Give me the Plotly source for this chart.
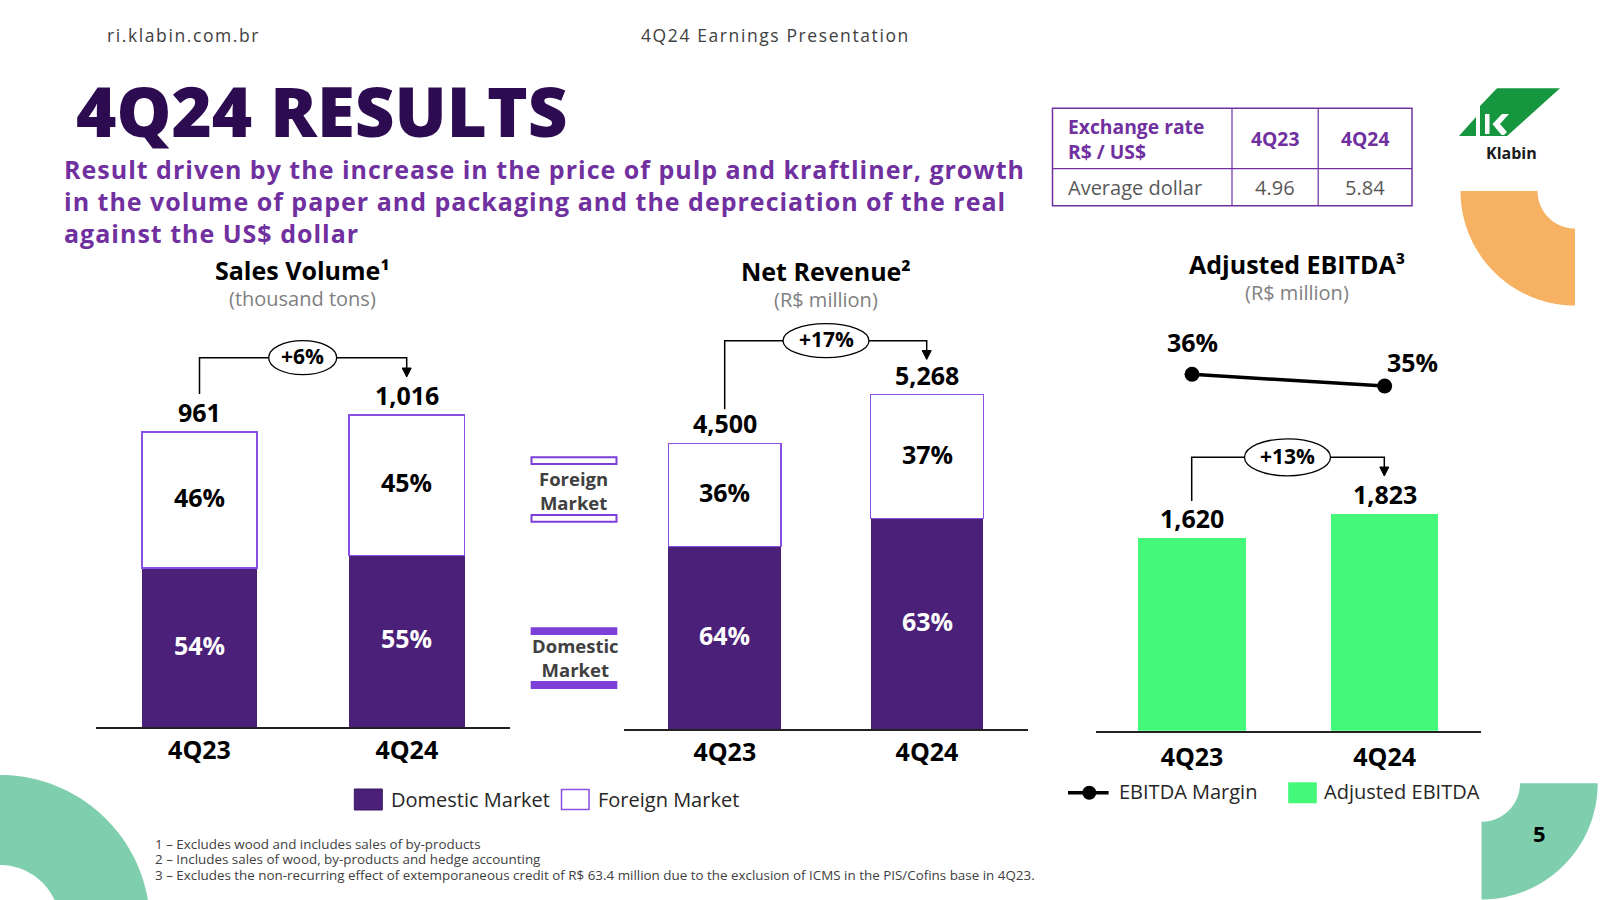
import numpy as np
import plotly.graph_objects as go

# ---------------- data ----------------
quarters = ["4Q23", "4Q24"]
volume_total = [961, 1016]
volume_domestic_pct = [54, 55]
volume_foreign_pct = [46, 45]
revenue_total = [4500, 5268]
revenue_domestic_pct = [64, 63]
revenue_foreign_pct = [36, 37]
ebitda = [1620, 1823]
ebitda_margin = [36, 35]
growth_labels = ["+6%", "+17%", "+13%"]
fx_header = ["Exchange rate", "R$ / US$"]
fx_periods = ["4Q23", "4Q24"]
fx_label = "Average dollar"
fx_values = ["4.96", "5.84"]
footnotes = [
    "1 – Excludes wood and includes sales of by-products",
    "2 – Includes sales of wood, by-products and hedge accounting",
    "3 – Excludes the non-recurring effect of extemporaneous credit of R$ 63.4 million due to the exclusion of ICMS in the PIS/Cofins base in 4Q23.",
]

# ---------------- style ----------------
W, H = 1600, 900
FONT = "Open Sans"
DOM = "#4B2079"
FOR_LINE = "#8A4FE3"
LEG_VIOLET = "#7D3FD8"
GREEN = "#44F97A"
MINT = "#7FCEAE"
ORANGE = "#F6B262"
PURPLE_TXT = "#7030A0"
TITLE_COL = "#2D0B50"
BW = 0.557
DY = -1.5  # small global vertical nudge for free texts


def X(p):
    return p / W


def Y(p):
    return 1 - p / H


fig = go.Figure()
shapes = []
anns = []


def txt(x, y, s, size, color="#000000", weight="normal", xanchor="center", yanchor="middle", ls=None,
        dy=DY, align="center"):
    if ls is not None:
        s = f'<span style="letter-spacing:{ls}px">{s}</span>'
    anns.append(dict(x=X(x), y=Y(y + dy), xref="paper", yref="paper", text=s, showarrow=False,
                     xanchor=xanchor, yanchor=yanchor, align=align,
                     font=dict(family=FONT, size=size, color=color, weight=weight)))


def seg_label(q, yv, s, xa, ya, color):
    anns.append(dict(x=q, y=yv, xref=xa, yref=ya, text=s, showarrow=False, yshift=3,
                     yanchor="middle", font=dict(family=FONT, size=25, color=color, weight="bold")))


def stacked(total, dom_pct, for_pct, xa, ya):
    dom = [t * p / 100 for t, p in zip(total, dom_pct)]
    frn = [t * p / 100 for t, p in zip(total, for_pct)]
    fig.add_bar(x=quarters, y=dom, xaxis=xa, yaxis=ya, width=BW,
                marker=dict(color=DOM, line=dict(width=0)),
                showlegend=False, hoverinfo="skip")
    fig.add_bar(x=quarters, y=frn, xaxis=xa, yaxis=ya, width=BW,
                marker=dict(color="white", line=dict(color=FOR_LINE, width=1.5)),
                showlegend=False, hoverinfo="skip")
    for q, d, f, dp, fp in zip(quarters, dom, frn, dom_pct, for_pct):
        seg_label(q, d / 2, f"{dp}%", xa, ya, "white")
        seg_label(q, d + f / 2, f"{fp}%", xa, ya, "black")
    for q, t in zip(quarters, total):
        anns.append(dict(x=q, y=t, xref=xa, yref=ya, text=f"{t:,}", showarrow=False, yshift=20,
                         yanchor="middle", font=dict(family=FONT, size=25, color="black", weight="bold")))


stacked(volume_total, volume_domestic_pct, volume_foreign_pct, "x", "y")
stacked(revenue_total, revenue_domestic_pct, revenue_foreign_pct, "x2", "y2")

fig.add_bar(x=quarters, y=ebitda, xaxis="x3", yaxis="y3", width=BW,
            marker=dict(color=GREEN, line=dict(width=0)), showlegend=False, hoverinfo="skip")
for q, v in zip(quarters, ebitda):
    anns.append(dict(x=q, y=v, xref="x3", yref="y3", text=f"{v:,}", showarrow=False, yshift=20,
                     yanchor="middle", font=dict(family=FONT, size=25, color="black", weight="bold")))

fig.add_scatter(x=quarters, y=ebitda_margin, xaxis="x3", yaxis="y4", mode="lines+markers",
                line=dict(color="black", width=3.5), marker=dict(color="black", size=15),
                cliponaxis=False, showlegend=False, hoverinfo="skip")
margin_shift = [(0, 32), (28, 24)]
for q, m, (dx, dy) in zip(quarters, ebitda_margin, margin_shift):
    anns.append(dict(x=q, y=m, xref="x3", yref="y4", text=f"{m}%", showarrow=False,
                     xshift=dx, yshift=dy, yanchor="middle",
                     font=dict(family=FONT, size=25, color="black", weight="bold")))

# ---------------- axes ----------------
def xax(d0, d1, anchor, standoff):
    return dict(domain=[X(d0), X(d1)], range=[-0.5, 1.5], type="category", showline=True,
                linecolor="#222222", linewidth=1.5, ticks="", showgrid=False, zeroline=False,
                tickfont=dict(family=FONT, size=25, color="black", weight="bold"),
                ticklabelstandoff=standoff, anchor=anchor, fixedrange=True)


def yax(b, t, r0, r1):
    return dict(domain=[Y(b), Y(t)], range=[r0, r1], visible=False, fixedrange=True)


fig.update_layout(
    xaxis=xax(95.85, 510.45, "y", 0),
    yaxis=yax(727.3, 358.4, 0, 1200),
    xaxis2=xax(623.7, 1028.1, "y2", 0),
    yaxis2=yax(729.3, 348.1, 0, 6000),
    xaxis3=xax(1095.7, 1481.0, "y3", 4),
    yaxis3=yax(730.7, 374.2, 0, 3000),
    yaxis4=dict(domain=[Y(550), Y(300)], range=[20.98, 42.35], visible=False, anchor="x3",
                fixedrange=True),
)

# ---------------- growth brackets ----------------
def bracket(xl, yb, xr, yt, tip, ecx, ew, eh, label):
    shapes.append(dict(type="path", xref="paper", yref="paper",
                       path=f"M{X(xl)},{Y(yb)} L{X(xl)},{Y(yt)} L{X(xr)},{Y(yt)} L{X(xr)},{Y(tip - 8)}",
                       line=dict(color="black", width=1.5)))
    shapes.append(dict(type="path", xref="paper", yref="paper",
                       path=f"M{X(xr - 4.5)},{Y(tip - 9)} L{X(xr + 4.5)},{Y(tip - 9)} L{X(xr)},{Y(tip)} Z",
                       fillcolor="black", line=dict(color="black", width=1)))
    shapes.append(dict(type="circle", xref="paper", yref="paper",
                       x0=X(ecx - ew / 2), x1=X(ecx + ew / 2), y0=Y(yt + eh / 2), y1=Y(yt - eh / 2),
                       fillcolor="white", line=dict(color="black", width=1.3)))
    txt(ecx, yt, label, 21, weight="bold")


bracket(199.5, 394, 406.7, 357.7, 377, 302.7, 68, 34, growth_labels[0])
bracket(724.7, 409.3, 926.7, 340.7, 359.5, 826, 86, 34, growth_labels[1])
bracket(1191.7, 501, 1384.3, 457.3, 476, 1287.5, 86, 37, growth_labels[2])

# ---------------- chart titles ----------------
txt(302.7, 271.7, "Sales Volume¹", 25, weight="bold")
txt(302.7, 300, "(thousand tons)", 20, color="#808080")
txt(826, 272.5, "Net Revenue²", 25, weight="bold")
txt(826, 300.5, "(R$ million)", 20, color="#808080")
txt(1296.7, 265.5, "Adjusted EBITDA³", 25, weight="bold")
txt(1296.7, 294, "(R$ million)", 20, color="#808080")

# ---------------- side legend (middle) ----------------
for y0, y1 in [(457.3, 464), (515, 521.7)]:
    shapes.append(dict(type="rect", xref="paper", yref="paper", x0=X(531.5), x1=X(616.5),
                       y0=Y(y1), y1=Y(y0), fillcolor="white", line=dict(color=LEG_VIOLET, width=2)))
for y0, y1 in [(627.3, 635), (681, 689)]:
    shapes.append(dict(type="rect", xref="paper", yref="paper", x0=X(530.7), x1=X(617.3),
                       y0=Y(y1), y1=Y(y0), fillcolor=LEG_VIOLET, line=dict(width=0)))
txt(573.3, 492, "Foreign<br>Market", 18.5, color="#404040", weight="bold")
txt(575, 658.5, "Domestic<br>Market", 18.5, color="#404040", weight="bold")

# ---------------- bottom legends ----------------
shapes.append(dict(type="rect", xref="paper", yref="paper", x0=X(354.3), x1=X(382.3), y0=Y(810), y1=Y(789),
                   fillcolor=DOM, line=dict(color="#3A1860", width=1)))
txt(389.3, 800.5, "Domestic Market", 20, color="#262626", xanchor="left")
shapes.append(dict(type="rect", xref="paper", yref="paper", x0=X(561.5), x1=X(589), y0=Y(809.5), y1=Y(789.5),
                   fillcolor="white", line=dict(color=FOR_LINE, width=1.5)))
txt(596.3, 800.5, "Foreign Market", 20, color="#262626", xanchor="left")

shapes.append(dict(type="line", xref="paper", yref="paper", x0=X(1068), x1=X(1108.6), y0=Y(792.7), y1=Y(792.7),
                   line=dict(color="black", width=3.5)))
shapes.append(dict(type="circle", xref="paper", yref="paper", x0=X(1082.3), x1=X(1096.3), y0=Y(799.7),
                   y1=Y(785.7), fillcolor="black", line=dict(color="black", width=0)))
txt(1117, 792.7, "EBITDA Margin", 20, color="#262626", xanchor="left")
shapes.append(dict(type="rect", xref="paper", yref="paper", x0=X(1288.2), x1=X(1316.8), y0=Y(803.3),
                   y1=Y(782.3), fillcolor=GREEN, line=dict(width=0)))
txt(1322, 792.7, "Adjusted EBITDA", 20, color="#262626", xanchor="left")

# ---------------- footnotes ----------------
for i, f in enumerate(footnotes):
    txt(153, 845 + i * 15.8, f, 13.4, color="#404040", xanchor="left")

# ---------------- header / title ----------------
txt(105, 35, "ri.klabin.com.br", 17.5, color="#404040", xanchor="left", ls=1.6, dy=0)
txt(639, 35, "4Q24 Earnings Presentation", 17.5, color="#404040", xanchor="left", ls=1.6, dy=0)
txt(74, 111, "4Q24 RESULTS", 69, color=TITLE_COL, weight=800, xanchor="left")
sub = ["Result driven by the increase in the price of pulp and kraftliner, growth",
       "in the volume of paper and packaging and the depreciation of the real",
       "against the US$ dollar"]
for i, s in enumerate(sub):
    txt(62, 169 + i * 32.2, s, 25, color=PURPLE_TXT, weight="bold", xanchor="left", ls=1.0, dy=0)

# ---------------- exchange table ----------------
shapes.append(dict(type="rect", xref="paper", yref="paper", x0=X(1052.5), x1=X(1412), y0=Y(205.7), y1=Y(108.3),
                   fillcolor="rgba(0,0,0,0)", line=dict(color=PURPLE_TXT, width=1.5)))
for xv in [1232, 1318.2]:
    shapes.append(dict(type="line", xref="paper", yref="paper", x0=X(xv), x1=X(xv), y0=Y(205.7), y1=Y(108.3),
                       line=dict(color=PURPLE_TXT, width=1.2)))
shapes.append(dict(type="line", xref="paper", yref="paper", x0=X(1052.5), x1=X(1412), y0=Y(168.7), y1=Y(168.7),
                   line=dict(color=PURPLE_TXT, width=1.2)))
txt(1066, 139, "<br>".join(fx_header), 19.3, color=PURPLE_TXT, weight="bold", xanchor="left",
    dy=0, align="left")
for xc, p, v in zip([1275, 1365], fx_periods, fx_values):
    txt(xc, 139, p, 19.3, color=PURPLE_TXT, weight="bold", dy=0)
    txt(xc, 187.5, v, 20, color="#595959", dy=0)
txt(1066, 187.5, fx_label, 20, color="#595959", xanchor="left", dy=0)

# ---------------- logo ----------------
LOGO = "#16963F"


def poly(pts, color):
    p = "M" + " L".join(f"{X(a):.5f},{Y(b):.5f}" for a, b in pts) + " Z"
    shapes.append(dict(type="path", xref="paper", yref="paper", path=p, fillcolor=color, line=dict(width=0)))


poly([(1459, 136), (1476, 117), (1476, 136)], LOGO)
poly([(1480, 136), (1480, 106), (1497, 88.3), (1560, 88.3), (1507, 136)], LOGO)
poly([(1485, 114), (1489.5, 114), (1489.5, 134), (1485, 134)], "white")
poly([(1492.5, 124), (1502, 114), (1509, 114), (1500, 124), (1507, 132), (1504, 135), (1501.5, 135)], "white")
txt(1511.4, 153.3, "Klabin", 16, color="#1a1a1a", weight="bold", dy=0)

# ---------------- decorative rings ----------------
def ring(cx, cy, r_in, r_out, a0, a1, color, n=48):
    pts = []
    for a in np.linspace(a0, a1, n):
        t = np.radians(a)
        pts.append((cx + r_out * np.cos(t), cy - r_out * np.sin(t)))
    for a in np.linspace(a1, a0, n):
        t = np.radians(a)
        pts.append((cx + r_in * np.cos(t), cy - r_in * np.sin(t)))
    poly(pts, color)


ring(1575, 191, 37.5, 114.5, 180, 270, ORANGE)
ring(1481.5, 783.3, 38.5, 116.2, 270, 360, MINT)
ring(0, 925, 60, 150, 0, 90, MINT)
txt(1539.3, 834, "5", 22, color="black", weight="bold")

fig.update_layout(
    width=W, height=H, margin=dict(l=0, r=0, t=0, b=0),
    paper_bgcolor="white", plot_bgcolor="rgba(0,0,0,0)",
    barmode="stack", showlegend=False,
    shapes=shapes, annotations=anns,
    font=dict(family=FONT),
)

fig.write_html("out.html", config={"displayModeBar": False},
               post_script="document.body.style.margin='0';document.body.style.overflow='hidden';")
